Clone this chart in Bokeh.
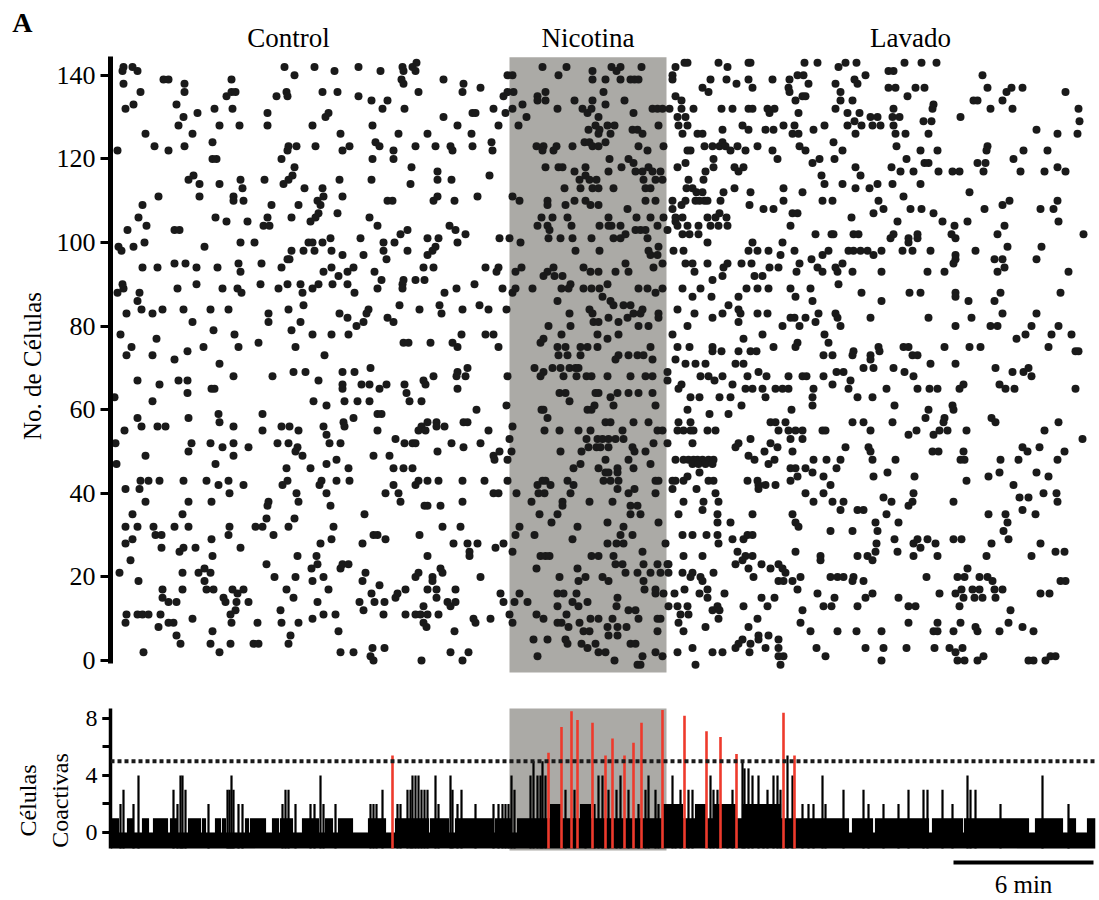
import numpy as np
from bokeh.plotting import figure
from bokeh.layouts import column
from bokeh.models import (Range1d, FixedTicker, SingleIntervalTicker, Span, Plot, Text, ColumnDataSource,
                          LinearAxis)
from bokeh.core.properties import value
from bokeh.embed import file_html
from bokeh.resources import INLINE

# ---------------- data ----------------
# time axis in imaging frames (1 frame = 360/140 s, so 140 frames = 6 min)
FRAME_S = 360.0 / 140.0
N_FRAMES = 986
nicotine_on, nicotine_off = 399, 556          # frames of nicotine application
phase_names = ["Control", "Nicotina", "Lavado"]

# raster events (frame, cell), region by region
ev_1 = [(13,142),(22,142),(12,141),(27,141),(174,142),(204,142),(224,141),(184,140),(13,138),(53,139),(58,139),(74,138),(121,139),(30,136),(74,136),(116,135),(121,136),(125,136),(166,135),(176,136),(177,135),(212,136),(227,136),(15,132),(23,133),(66,133),(87,131),(104,132),(122,132),(157,131),(218,131),(215,130),(73,130),(68,128),(109,128),(129,128),(157,128),(202,128),(35,126),(82,126),(102,124),(230,126),(7,122),(44,123),(58,122),(74,123),(178,123),(177,122),(186,123),(205,123),(232,122),(239,123),(102,120),(106,120),(171,120),(83,116),(78,115),(89,114),(109,114),(130,115),(132,113),(154,115),(184,118),(182,116),(178,115),(173,114),(194,113),(212,113),(229,115),(48,111),(89,111),(123,111),(123,110),(133,110),(207,110),(213,111),(210,109),(232,111),(32,109),(161,109),(188,109),(28,106),(105,106),(116,105),(137,105),(157,106),(153,104),(159,104),(181,106),(208,107),(205,106),(200,105),(227,107),(17,103),(36,104),(64,103),(69,103),(8,99),(11,98),(23,99),(34,100),(94,99),(130,100),(144,100),(198,100),(202,100),(212,100),(220,101),(181,98),(193,98),(204,98),(221,98),(232,97),(32,94),(47,94),(64,95),(75,95),(86,94),(107,94),(128,95),(130,93),(151,95),(171,94),(177,96),(179,96),(213,93),(221,94),(237,93),(228,92),(12,90),(13,89),(7,88),(29,88),(67,89),(86,90),(112,89),(127,89),(131,88),(150,90),(168,89),(177,90),(190,90),(192,88),(202,89),(208,90),(222,90),(237,90),(27,86),(16,83),(31,84),(42,83),(52,84),(73,84),(100,84),(118,84),(158,83),(178,84),(193,85),(229,83),(237,82),(82,81),(158,81),(181,79),(190,81),(10,78),(46,77),(103,79),(124,78),(202,78),(221,78),(238,78),(21,75),(16,73),(42,73),(64,72),(77,74),(93,75),(128,75),(148,76),(185,75),(214,73),(109,71)]
ev_2 = [(27,67),(49,66),(68,67),(77,67),(77,64),(101,65),(104,65),(123,68),(162,68),(183,69),(195,69),(208,67),(232,69),(232,66),(232,65),(4,63),(42,62),(203,62),(216,61),(234,62),(27,58),(31,56),(47,56),(55,56),(78,58),(108,59),(109,57),(123,56),(152,59),(152,55),(171,56),(179,56),(188,55),(213,56),(216,54),(233,57),(234,56),(14,55),(5,52),(35,49),(81,52),(78,50),(100,52),(112,51),(123,52),(123,49),(138,51),(167,52),(178,52),(187,51),(185,50),(192,49),(219,52),(230,52),(6,47),(105,47),(176,46),(200,46),(216,47),(226,48),(238,46),(30,43),(38,43),(49,43),(73,43),(96,43),(108,42),(118,43),(133,42),(119,40),(177,43),(172,42),(211,43),(209,42),(226,43),(239,43),(186,40),(216,40),(15,41),(29,41),(35,38),(78,38),(101,38),(158,38),(157,37),(188,38),(220,37),(22,35),(72,35),(156,34),(184,34),(15,32),(27,32),(43,32),(64,32),(78,32),(119,32),(145,32),(152,32),(178,32),(223,32),(45,30),(51,30),(118,30),(163,30),(15,28),(22,29),(101,29),(210,28),(221,29),(51,27),(69,26),(73,27),(85,27),(130,27),(102,25),(187,25),(206,25),(20,24),(9,21),(28,19),(72,21),(88,21),(94,22),(100,21),(94,19),(156,23),(164,20),(185,20),(201,22),(207,23),(213,20),(202,19),(230,22),(232,23),(238,23),(52,17),(72,17),(96,17),(103,17),(122,17),(133,17),(127,16),(176,17),(218,17),(52,15),(58,14),(66,14),(113,15),(115,14),(126,14),(138,14),(183,15),(207,14),(16,11),(27,11),(32,11),(38,11),(50,11),(15,9),(48,8),(58,9),(63,9),(82,10),(120,11),(125,12),(121,9),(147,9),(170,12),(171,9),(188,9),(202,10),(213,11),(225,11),(66,6),(70,4),(102,7),(100,4),(120,4),(143,4),(148,4),(178,4),(180,6),(228,7),(33,2),(109,2),(230,2)]
ev_3 = [(248,142),(270,141),(292,142),(293,141),(302,142),(306,143),(305,141),(291,139),(293,138),(333,139),(353,138),(370,137),(352,136),(308,136),(248,135),(261,134),(277,134),(272,132),(294,132),(397,140),(402,140),(403,136),(397,136),(393,135),(383,132),(395,131),(402,132),(362,131),(365,131),(333,130),(347,128),(388,128),(262,128),(432,142),(456,142),(448,140),(482,141),(482,139),(412,133),(416,130),(408,128),(427,135),(427,134),(435,136),(435,134),(447,132),(464,134),(472,132),(477,131),(481,132),(482,134),(488,130),(478,127),(488,126),(265,124),(269,123),(283,122),(288,126),(305,123),(317,126),(325,123),(340,123),(342,122),(361,126),(362,123),(381,124),(382,122),(262,120),(283,120),(301,118),(327,117),(327,115),(341,115),(300,114),(261,115),(379,116),(426,123),(433,123),(432,122),(443,122),(446,123),(462,123),(474,124),(479,124),(482,123),(488,123),(435,118),(448,118),(452,118),(464,117),(475,118),(469,115),(475,116),(479,115),(486,115),(454,113),(470,113),(482,113),(488,113),(277,110),(282,110),(323,110),(327,111),(344,110),(367,111),(402,111),(409,110),(437,110),(437,109),(455,109),(464,110),(475,110),(480,109),(488,109),(259,106),(267,104),(290,102),(297,103),(339,104),(345,103),(355,102),(347,100),(250,101),(273,100),(284,100),(273,98),(276,96),(253,97),(297,98),(317,101),(328,101),(325,99),(322,98),(317,97),(389,101),(399,101),(410,100),(431,106),(442,106),(457,106),(427,104),(437,104),(439,103),(461,104),(489,104),(438,101),(450,101),(462,101),(481,101),(465,98),(489,98),(243,94),(264,93),(271,91),(267,89),(244,88),(293,91),(305,91),(314,91),(292,90),(292,89),(313,94),(323,94),(334,88),(346,89),(364,90),(375,94),(386,93),(388,94),(392,89),(402,88),(405,89),(405,93),(411,94),(422,89),(437,93),(433,92),(444,92),(452,92),(443,94),(473,94),(480,93),(488,93),(451,89),(460,90),(458,89),(473,89),(481,89),(489,89),(447,86),(289,85),(309,84),(329,85),(331,83),(352,84),(369,85),(378,84),(396,84),(258,84),(256,83),(253,81),(246,80),(277,82),(283,81),(459,83),(479,84),(482,83),(438,80),(460,80),(483,81),(487,78),(451,78),(433,77),(430,76),(447,75),(455,75),(470,75),(477,75),(487,75),(448,73),(457,73),(470,73),(293,76),(298,76),(320,76),(342,76),(347,75),(351,78),(375,78),(383,78),(388,75)]
ev_4 = [(244,69),(260,70),(251,66),(259,66),(269,65),(276,66),(294,66),(296,64),(299,62),(311,62),(313,67),(315,66),(323,68),(347,69),(357,70),(346,68),(355,68),(347,65),(397,68),(247,62),(259,62),(243,58),(267,59),(271,59),(267,55),(311,56),(317,57),(326,57),(326,56),(334,56),(308,55),(315,55),(353,57),(357,57),(366,60),(378,55),(396,61),(402,56),(424,70),(433,69),(430,68),(442,70),(450,70),(459,70),(465,70),(468,70),(453,68),(466,68),(476,68),(481,68),(449,64),(455,64),(459,62),(484,61),(488,64),(431,60),(433,60),(437,58),(477,60),(481,60),(434,55),(449,55),(468,55),(480,55),(476,53),(487,53),(486,51),(478,51),(450,50),(471,50),(463,46),(470,47),(488,46),(285,53),(294,52),(302,52),(305,52),(341,52),(353,51),(370,52),(327,50),(399,53),(401,50),(263,49),(279,49),(283,46),(293,46),(302,46),(283,42),(275,40),(288,40),(290,38),(305,42),(308,43),(317,43),(328,43),(352,43),(374,43),(397,43),(383,49),(389,50),(384,48),(397,48),(383,40),(388,40),(314,37),(317,37),(330,37),(352,38),(254,35),(427,42),(432,43),(435,43),(440,42),(457,43),(463,42),(428,40),(434,40),(406,40),(421,38),(452,38),(452,37),(460,40),(479,38),(429,35),(447,35),(441,33),(263,30),(267,30),(275,29),(252,28),(309,30),(332,32),(350,32),(343,28),(357,28),(367,28),(359,26),(359,25),(385,27),(393,28),(402,26),(317,25),(409,32),(405,30),(424,30),(467,32),(462,29),(430,25),(435,25),(439,25),(481,25),(488,25),(255,21),(252,19),(269,18),(261,16),(264,14),(249,14),(253,12),(274,14),(273,11),(295,11),(305,11),(310,11),(317,11),(328,11),(287,16),(285,15),(295,17),(305,20),(308,21),(322,20),(322,19),(317,17),(326,17),(326,15),(330,22),(332,21),(345,17),(337,14),(340,13),(345,14),(313,13),(313,9),(316,8),(370,20),(344,7),(363,10),(365,9),(380,10),(390,16),(393,14),(399,11),(402,9),(404,14),(409,16),(417,14),(426,22),(449,20),(467,22),(468,19),(475,20),(426,11),(433,10),(447,16),(453,16),(466,16),(462,14),(468,13),(477,14),(447,13),(456,11),(447,9),(451,9),(458,8),(469,9),(473,7),(479,7),(480,10),(488,10),(423,5),(437,5),(455,5),(457,4),(471,4),(477,3),(485,4),(488,2),(427,1),(243,2),(262,3),(260,1),(263,0),(274,3),(311,0),(340,2),(358,2),(352,0)]
ev_5 = [(501,142),(510,142),(506,141),(531,142),(495,139),(510,139),(520,139),(524,139),(528,139),(493,136),(514,134),(495,133),(523,131),(542,132),(547,132),(552,132),(485,128),(489,127),(497,128),(504,128),(500,126),(495,124),(522,127),(527,127),(532,126),(528,123),(537,122),(548,128),(553,123),(499,120),(518,120),(523,119),(511,118),(498,117),(525,117),(532,117),(538,118),(542,117),(550,117),(503,113),(533,115),(535,113),(540,113),(545,115),(552,115),(517,108),(535,110),(545,110),(498,106),(526,106),(540,106),(498,104),(501,104),(510,104),(525,103),(530,103),(535,103),(547,104),(553,106),(503,101),(510,101),(515,102),(537,101),(538,98),(540,97),(548,99),(547,97),(515,95),(505,93),(518,93),(543,94),(552,95),(497,90),(528,89),(537,89),(545,88),(552,89),(492,87),(500,86),(503,85),(513,85),(520,85),(532,84),(530,83),(548,83),(488,81),(498,82),(508,81),(517,82),(523,83),(528,80),(538,80),(508,78),(497,77),(548,82),(540,75),(508,73),(518,73),(527,73),(533,73),(542,72),(505,72),
        (565,142),(574,143),(577,143),(562,140),(562,139),(608,143),(617,142),(638,143),(640,143),(694,143),(707,143),(728,142),(600,139),(616,139),(626,138),(638,139),(642,137),(662,139),(679,139),(687,140),(693,140),(698,138),(725,138),(685,134),(692,135),(695,135),(678,137),(679,136),(592,137),(598,136),(565,135),(571,134),(730,134),(559,132),(571,132),(583,132),(611,132),(622,132),(638,132),(642,132),(657,132),(664,132),(659,131),(688,131),(725,132),(567,130),(575,130),(568,128),(577,128),(612,127),(587,126),(592,126),(632,128),(638,127),(655,127),(663,127),(673,128),(684,128),(682,126),(688,126),(703,127),(714,128),(572,126),(594,123),(602,123),(609,123),(612,124),(615,123),(620,122),(627,123),(647,123),(635,122),(662,122),(689,123),(695,122),(723,124),(732,122),(577,122),(580,122),(603,120),(575,119),(567,118),(595,117),(603,118),(624,118),(628,117),(633,118),(667,120),(702,119),(709,120),(724,120),(578,115),(593,115),(711,116),(714,114),(732,114),(576,113),(582,113),(586,112),(594,110),(592,112),(613,112),(624,113),(640,112),(673,113),(692,112),(562,110),(571,109),(562,108),(575,110),(585,110),(589,110),(597,110),(610,110),(639,109),(653,108),(663,108),(673,110),(682,107),(687,107),(712,110),(722,110),(565,106),(572,106),(565,105),(567,104),(577,104),(588,104),(597,106),(600,104),(605,106),(609,107),(608,104),(616,106),(617,104),(680,104),(557,103),(572,102),(579,102),(588,102),(597,100),(642,100),(638,98),(647,98),(658,98),(672,100),(670,97),(684,98),(705,102),(721,102),(723,102),(563,98),(573,98),(575,95),(582,95),(584,93),(597,95),(613,94),(617,95),(612,92),(631,95),(641,95),(644,92),(652,92),(659,94),(668,94),(686,93),(689,95),(701,96),(712,97),(718,98),(707,94),(712,93),(725,94),(727,93),(732,95),(572,89),(582,87),(590,89),(601,87),(602,91),(618,85),(628,87),(636,89),(647,89),(658,89),(680,89),(685,87),(700,89),(702,86),(728,90),(567,84),(584,83),(602,82),(612,83),(628,84),(630,83),(628,81),(647,83),(657,83),(680,82),(684,82),(689,80),(695,82),(705,81),(708,83),(725,83),(727,82),(730,80),(672,80),(577,80),(562,78),(633,77),(652,78),(714,78),(718,76),(687,76),(685,75),(663,75),(567,75),(579,75),(602,75),(602,74),(611,74),(628,74),(640,74),(646,74),(565,72),(575,71),(585,71),(595,71),(625,71),(633,71),(713,73),(722,73)]
ev_6 = [(497,68),(520,68),(535,68),(542,68),(557,69),(485,64),(500,63),(507,64),(518,64),(528,64),(542,64),(503,61),(545,61),(495,57),(500,57),(523,57),(538,57),(547,55),(552,55),(512,55),(492,53),(498,53),(505,53),(513,53),(490,51),(498,51),(522,51),(524,50),(535,50),(543,52),(557,52),(495,48),(518,48),(523,46),(540,47),(495,45),(498,45),(507,46),(507,45),(493,43),(500,43),(508,43),(545,43),(548,43),(507,41),(518,40),(524,41),(545,40),(502,38),(520,37),(527,37),(520,35),(530,35),(497,33),(513,32),(548,33),(510,30),(522,30),(497,28),(506,28),(513,28),(555,28),(503,25),(532,26),(505,23),(512,23),(533,23),(547,23),(557,23),(492,20),(498,19),(515,21),(527,21),(540,21),(550,21),(558,21),(533,19),(534,17),(545,17),(553,16),(545,16),(507,15),(506,13),(518,12),(525,12),(502,10),(528,10),(547,10),(550,10),(497,8),(507,8),(516,8),(498,6),(507,6),(547,7),(520,4),(525,4),(495,2),(504,0),(532,1),(545,2),(552,1),(527,-1),(530,-1),
        (557,67),(590,68),(598,68),(604,67),(612,68),(622,66),(637,68),(648,69),(656,68),(678,68),(692,68),(696,68),(713,68),(722,66),(726,69),(733,69),(568,65),(571,66),(580,63),(589,63),(609,63),(620,63),(631,61),(635,65),(642,65),(652,65),(655,63),(665,65),(672,65),(678,65),(703,65),(702,63),(702,61),(577,60),(568,57),(580,57),(599,59),(618,59),(660,57),(665,57),(675,57),(681,60),(567,55),(573,55),(580,55),(583,55),(597,55),(605,55),(668,55),(678,55),(685,55),(692,55),(712,55),(715,55),(582,52),(628,52),(625,51),(640,53),(654,50),(660,52),(667,51),(680,53),(682,50),(692,53),(735,51),(565,48),(573,48),(578,48),(583,48),(587,48),(592,48),(598,48),(603,48),(582,47),(588,47),(595,47),(602,47),(589,45),(638,49),(644,48),(658,47),(664,48),(680,46),(685,46),(687,44),(695,46),(702,45),(703,48),(716,48),(726,46),(713,44),(562,43),(565,43),(573,43),(577,44),(562,41),(586,41),(598,43),(603,43),(605,40),(637,43),(647,43),(648,42),(648,41),(655,42),(665,42),(680,43),(695,40),(703,38),(713,40),(722,38),(733,38),(720,42),(573,38),(593,38),(592,36),(608,38),(568,35),(607,35),(607,33),(620,33),(642,35),(682,35),(685,33),(688,32),(720,31),(572,30),(582,30),(596,30),(607,30),(608,28),(622,29),(633,29),(637,30),(642,30),(573,25),(592,25),(627,26),(635,25),(642,25),(685,26),(710,25),(710,24),(558,23),(572,21),(582,21),(580,20),(590,20),(592,19),(603,21),(625,23),(632,24),(638,22),(651,23),(660,22),(668,23),(672,22),(675,21),(643,20),(668,19),(673,19),(682,19),(690,20),(720,20),(727,20),(733,20),(564,16),(574,17),(589,16),(597,17),(597,15),(614,16),(651,15),(657,13),(664,15),(687,17),(707,16),(713,13),(721,13),(724,15),(558,13),(567,13),(577,13),(570,11),(578,11),(602,12),(607,13),(609,12),(608,10),(633,13),(647,10),(692,12),(690,9),(568,9),(573,7),(595,8),(638,8),(700,7),(727,7),(648,6),(658,6),(668,5),(632,5),(628,4),(640,4),(648,5),(625,3),(639,2),(655,3),(668,3),(668,1),(673,1),(670,-1),(567,2),(582,3),(602,2),(612,2),(585,-1),(706,3),(715,1)]
ev_7 = [(735,143),(746,143),(794,143),(811,143),(826,143),(778,141),(783,141),(755,140),(744,139),(747,138),(730,136),(742,134),(778,137),(785,137),(797,135),(805,137),(814,137),(823,133),(822,132),(737,131),(749,131),(760,130),(767,130),(737,128),(744,129),(751,128),(745,126),(762,128),(770,128),(783,132),(782,130),(789,130),(783,128),(813,129),(821,129),(818,126),(785,126),(786,123),(795,126),(850,130),(872,140),(877,137),(896,136),(901,137),(912,137),(892,134),(863,134),(867,134),(880,132),(902,132),(955,136),(968,132),(969,129),(926,127),(947,126),(967,126),(810,122),(827,122),(796,120),(814,119),(818,119),(877,123),(876,122),(913,122),(937,122),(903,120),(745,118),(750,116),(781,118),(790,117),(803,117),(828,117),(842,117),(849,117),(873,117),(867,119),(875,119),(910,117),(934,117),(947,118),(955,117),(745,113),(759,113),(767,114),(782,114),(810,114),(793,111),(768,110),(773,108),(763,107),(741,106),(787,105),(800,108),(811,108),(823,107),(832,105),(844,104),(857,105),(859,112),(874,108),(892,109),(899,110),(930,108),(943,108),(947,110),(948,105),(743,102),(748,102),(780,101),(783,102),(807,102),(807,101),(798,101),(798,100),(841,102),(845,101),(887,102),(894,104),(973,102),(738,98),(743,98),(750,98),(757,98),(763,97),(771,98),(792,98),(802,98),(820,98),(845,97),(845,96),(843,95),(865,98),(884,96),(892,96),(894,94),(897,99),(926,96),(931,99),(742,93),(771,93),(817,93),(834,93),(887,93),(958,93),(751,88),(799,88),(810,88),(845,88),(845,87),(858,86),(884,86),(890,88),(950,88),(771,86),(760,82),(818,82),(861,82),(892,83),(926,83),(845,80),(880,80),(887,80),(921,80),(948,80),(906,77),(915,78),(941,78),(961,78),(743,74),(742,73),(760,73),(760,72),(768,75),(769,74),(793,75),(798,75),(802,73),(807,73),(834,75),(859,75),(870,75),(938,75),(965,74),(968,74),(820,71),(845,71)]
ev_8 = [(753,70),(763,70),(783,70),(794,69),(803,68),(885,70),(902,69),(913,69),(918,70),(921,68),(740,67),(738,65),(747,63),(762,63),(776,65),(807,65),(819,65),(827,65),(849,65),(853,66),(889,66),(895,65),(904,65),(965,65),(784,61),(742,57),(753,57),(782,57),(760,55),(798,54),(806,55),(815,58),(818,60),(823,54),(829,55),(837,55),(833,57),(834,58),(842,61),(843,60),(856,55),(881,58),(885,57),(934,55),(948,57),(972,53),(758,51),(760,50),(762,48),(785,48),(730,48),(822,50),(828,50),(850,48),(854,48),(853,50),(890,48),(908,48),(912,51),(917,50),(929,51),(954,50),(947,48),(763,44),(777,45),(804,44),(856,43),(878,44),(889,45),(903,42),(926,45),(938,44),(730,36),(747,36),(753,36),(773,39),(781,38),(776,35),(798,37),(802,38),(803,40),(843,38),(878,35),(895,35),(897,33),(893,31),(898,29),(909,39),(918,39),(912,36),(925,35),(933,40),(946,40),(947,38),(765,33),(767,31),(788,33),(742,31),(766,28),(765,26),(762,24),(757,25),(747,25),(784,29),(787,26),(803,28),(807,29),(810,27),(817,29),(825,28),(803,25),(827,25),(843,29),(851,29),(881,28),(876,25),(921,25),(930,28),(945,26),(954,26),(743,20),(742,19),(753,19),(762,16),(755,15),(747,13),(788,15),(798,13),(805,13),(816,20),(829,16),(845,16),(847,20),(854,20),(857,22),(851,17),(853,15),(862,17),(869,17),(864,15),(872,15),(869,20),(877,20),(882,19),(884,17),(892,17),(885,15),(900,12),(930,16),(939,16),(950,19),(955,19),(849,13),(798,9),(827,9),(850,9),(746,7),(771,7),(823,7),(827,7),(843,7),(865,8),(867,7),(889,7),(898,9),(912,8),(923,7),(755,3),(773,3),(796,3),(824,3),(839,3),(845,2),(852,3),(771,0),(847,0),(854,0),(867,0),(873,1),(918,0),(923,0),(935,0),(940,1),(945,1)]

# co-active cell count: runs (start frame, end frame, level) of the low baseline activity
coact_runs = [(2,8,1),(17,22,1),(32,38,1),(43,57,1),(60,67,1),(78,90,1),(92,95,1),(105,110,1),(112,115,1),
              (135,138,1),(140,155,1),(162,168,1),(170,182,1),(192,197,1),(198,208,1),(215,222,1),(228,242,1),
              (258,275,1),(285,318,1),(320,338,1),(345,362,1),(363,382,1),(385,400,1),(407,417,1),(418,738,1),
              (742,762,1),(765,818,1),(822,852,1),(854,918,1),(925,952,1),(958,965,1),(977,985,1),
              (440,450,2),(470,480,2),(552,572,2),(585,596,2),(603,625,2),(632,670,2)]
# sub-threshold peaks (frame, co-active cells)
peak_f = [10,13,23,28,63,67,70,72,75,98,117,119,121,123,128,132,172,175,178,185,200,204,210,213,225,260,263,266,272,
          287,290,297,300,302,305,308,311,314,317,325,328,340,342,347,351,365,383,388,392,395,398,401,404,420,423,427,
          430,432,435,455,464,475,484,488,492,498,506,510,518,528,535,538,545,548,562,565,570,578,582,600,603,607,617,
          622,632,634,638,642,648,653,657,663,667,670,677,682,692,698,703,712,715,733,753,758,773,788,798,813,817,832,
          842,857,860,865,890,932,958]
peak_v = [2,3,2,4,3,2,4,4,3,2,3,3,4,3,2,2,2,3,3,2,2,2,4,2,2,2,2,2,3,
          2,2,3,3,4,4,4,3,3,3,4,2,4,3,2,3,2,2,2,2,2,2,4,3,4,5,4,
          4,5,4,3,3,2,2,4,4,3,3,4,3,2,3,4,3,2,4,2,3,3,3,4,3,3,2,
          3,5,4.5,4.5,4,4,2,3,4,4,3,5.4,4,2,2,2,4,2,3,3,2,2,2,3,3,3,3,
          2,4,3,3,2,4,2]
# supra-threshold (co-active) events, drawn in red
coact_f = [282,438,451,461,467,482,495,502,514,523,531,552,574,596,610,626,673,684]
coact_v = [5.4,5.6,7.4,8.5,7.9,7.7,5.4,6.6,5.4,6.3,7.7,8.6,8.2,7.1,6.7,5.5,8.4,5.4]
threshold = 5
scale_bar_min = 6

# ---------------- styles ----------------
FONT = "Liberation Serif"
DOT = "#1a1a1a"
GRAY = "#abaaa6"
RED = "#ee3a2c"
LEFT, RIGHT = 110, 4
HEAD = 56

events = ev_1 + ev_2 + ev_3 + ev_4 + ev_5 + ev_6 + ev_7 + ev_8
ev_frame = [e[0] for e in events]
ev_cell = [e[1] for e in events]

# ---------------- header: phase titles (frame aligned with the panels below) ----------------
h = Plot(width=1099, height=HEAD, x_range=Range1d(0, 985), y_range=Range1d(0, HEAD),
         min_border_left=LEFT, min_border_right=RIGHT, min_border_top=0, min_border_bottom=0,
         toolbar_location=None, outline_line_color=None, output_backend="svg")
phase_x = [178, (nicotine_on + nicotine_off) / 2, 800]
title_src = ColumnDataSource(dict(x=phase_x, y=[HEAD - 37] * 3, text=phase_names))
h.add_glyph(title_src, Text(x="x", y="y", text="text", text_align="center", text_baseline="middle",
                            text_font=value(FONT), text_font_size="27px", text_color="black"))
# panel letter "A", placed in the header's left margin as a single tick label
letter_y = HEAD - 22
letter_axis = LinearAxis(ticker=FixedTicker(ticks=[letter_y]), major_label_overrides={letter_y: "A"},
                         axis_line_color=None, major_tick_line_color=None, minor_tick_line_color=None,
                         major_tick_out=0, major_tick_in=0, major_label_standoff=78,
                         major_label_text_font=FONT, major_label_text_font_style="bold",
                         major_label_text_font_size="28px", major_label_text_color="black")
h.add_layout(letter_axis, "left")

# ---------------- raster ----------------
p = figure(width=1099, height=675 - HEAD + 25, x_range=Range1d(0, 985),
           y_range=Range1d(-3.59, (660 - HEAD) / 4.18),
           output_backend="svg", toolbar_location=None, title=None,
           min_border_left=LEFT, min_border_right=RIGHT, min_border_top=0, min_border_bottom=25)
p.xaxis.visible = False
p.grid.visible = False
p.outline_line_color = None

p.quad(left=[nicotine_on], right=[nicotine_off], bottom=[-2.9], top=[144.3], color=GRAY, line_color=None)
p.scatter(ev_frame, ev_cell, size=8, color=DOT, line_color=None)

ya = p.yaxis[0]
ya.ticker = FixedTicker(ticks=[0, 20, 40, 60, 80, 100, 120, 140])
ya.bounds = (-0.6, 144.4)
ya.axis_line_width = 5
ya.axis_line_color = "black"
ya.major_tick_line_width = 3
ya.major_tick_out = 10
ya.major_tick_in = 0
ya.minor_tick_line_color = None
ya.major_label_text_font = FONT
ya.major_label_text_font_size = "26px"
ya.major_label_text_color = "black"
ya.axis_label = "No. de Células"
ya.axis_label_text_font = FONT
ya.axis_label_text_font_style = "normal"
ya.axis_label_text_font_size = "25px"
ya.axis_label_text_color = "black"
ya.axis_label_standoff = 8

# ---------------- co-activity trace ----------------
frames = np.arange(N_FRAMES)
coact = np.zeros(N_FRAMES)
for a, b, lv in coact_runs:
    coact[a:b + 1] = np.maximum(coact[a:b + 1], lv)

base = -1.12
q = figure(width=1099, height=200, x_range=p.x_range, y_range=Range1d(-4.772, 9.263),
           output_backend="svg", toolbar_location=None, title=None,
           min_border_left=LEFT, min_border_right=RIGHT, min_border_top=0, min_border_bottom=0)
q.xaxis.visible = False
q.grid.visible = False
q.outline_line_color = None

q.quad(left=[nicotine_on], right=[nicotine_off], bottom=[-1.26], top=[8.7], color=GRAY, line_color=None)
q.vbar(x=frames, width=1.15, bottom=base, top=coact, color="black", line_color=None)
q.segment(x0=peak_f, y0=[base] * len(peak_f), x1=peak_f, y1=peak_v, line_color="black", line_width=2.2)
q.segment(x0=coact_f, y0=[base] * len(coact_f), x1=coact_f, y1=coact_v, line_color=RED, line_width=2.6)
q.add_layout(Span(location=threshold, dimension="width", line_color="#1a1a1a", line_width=4, line_dash="4 3"))

bar_len = scale_bar_min * 60 / FRAME_S
bar_end = 983
q.segment(x0=[bar_end - bar_len], y0=[-2.1], x1=[bar_end], y1=[-2.1], line_color="black", line_width=4)
q.text(x=[bar_end - bar_len / 2], y=[-3.62], text=[f"{scale_bar_min} min"], text_align="center",
       text_baseline="middle", text_font=value(FONT), text_font_size="25px", text_color="black")

qa = q.yaxis[0]
qa.ticker = SingleIntervalTicker(interval=4, num_minor_ticks=2)
qa.bounds = (base, 8.7)
qa.axis_line_width = 3.5
qa.major_tick_line_width = 3
qa.minor_tick_line_width = 3
qa.major_tick_out = 8
qa.minor_tick_out = 8
qa.major_tick_in = 0
qa.minor_tick_in = 0
qa.major_label_text_font = FONT
qa.major_label_text_font_size = "24px"
qa.major_label_text_color = "black"
qa.axis_label = "Células\nCoactivas"
qa.axis_label_text_font = FONT
qa.axis_label_text_font_style = "normal"
qa.axis_label_text_font_size = "24px"
qa.axis_label_text_color = "black"
qa.axis_label_standoff = 10

layout = column(h, p, q, spacing=0)
open("out.html", "w").write(file_html(layout, INLINE))
